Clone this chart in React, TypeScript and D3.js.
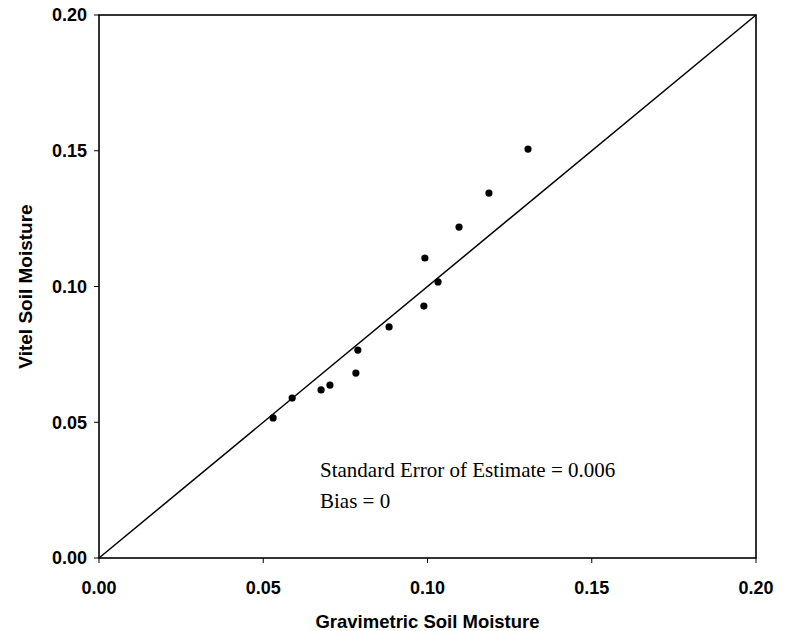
import React from "react";
import * as d3 from "d3";

// gravimetric (x) vs Vitel (y) soil moisture readings
const gravimetric = [0.053, 0.0588, 0.0676, 0.0703, 0.0782, 0.0788, 0.0883, 0.0989, 0.0992, 0.1032, 0.1096, 0.1187, 0.1306];
const vitel = [0.0516, 0.0589, 0.0619, 0.0637, 0.0681, 0.0766, 0.0851, 0.0928, 0.1105, 0.1017, 0.1219, 0.1344, 0.1506];
const ticks = [0, 0.05, 0.1, 0.15, 0.2];
const oneToOne = [0, 0.2];
const notes = ["Standard Error of Estimate = 0.006", "Bias = 0"];

const width = 787, height = 631;
const margin = { left: 99, right: 31, top: 15, bottom: 73 };

export default function App() {
    const x = d3.scaleLinear().domain([0, 0.2]).range([margin.left, width - margin.right]);
    const y = d3.scaleLinear().domain([0, 0.2]).range([height - margin.bottom, margin.top]);

    const line = d3.line<number>().x(d => x(d)).y(d => y(d));
    const points = gravimetric.map((g, i) => [g, vitel[i]]);

    const x0 = x(0), x1 = x(0.2), y0 = y(0), y1 = y(0.2);
    const sans = "'Liberation Sans', Arial, sans-serif";

    return (
        <svg width={width} height={height} style={{ position: "absolute", left: 0, top: 0, background: "#fff" }}>
            {/* frame */}
            <rect x={x0} y={y1} width={x1 - x0} height={y0 - y1} fill="none" stroke="#000" strokeWidth={1.6} />

            {/* 1:1 line */}
            <path d={line(oneToOne) || ""} fill="none" stroke="#000" strokeWidth={1.5} />

            {/* y ticks */}
            {ticks.map(t => (
                <g key={"y" + t}>
                    <line x1={x0 - 5} x2={x0} y1={y(t)} y2={y(t)} stroke="#000" strokeWidth={1} />
                    <text x={x0 - 12} y={y(t)} dy="0.35em" textAnchor="end"
                        fontFamily={sans} fontWeight="bold" fontSize={18}>{t.toFixed(2)}</text>
                </g>
            ))}

            {/* x ticks */}
            {ticks.map(t => (
                <g key={"x" + t}>
                    <line x1={x(t)} x2={x(t)} y1={y0} y2={y0 + 5} stroke="#000" strokeWidth={1} />
                    <text x={x(t)} y={y0 + 36} textAnchor="middle"
                        fontFamily={sans} fontWeight="bold" fontSize={18}>{t.toFixed(2)}</text>
                </g>
            ))}

            {points.map((p, i) => (
                <circle key={i} cx={x(p[0])} cy={y(p[1])} r={3.6} fill="#000" />
            ))}

            {notes.map((n, i) => (
                <text key={n} x={320} y={477 + i * 31} fontFamily="'Liberation Serif', 'Times New Roman', serif"
                    fontSize={21}>{n}</text>
            ))}

            <text x={(x0 + x1) / 2} y={628} textAnchor="middle" fontFamily={sans} fontWeight="bold" fontSize={18.5}>
                Gravimetric Soil Moisture
            </text>
            <text transform={`translate(32,${(y0 + y1) / 2}) rotate(-90)`} textAnchor="middle"
                fontFamily={sans} fontWeight="bold" fontSize={19}>
                Vitel Soil Moisture
            </text>
        </svg>
    );
}
